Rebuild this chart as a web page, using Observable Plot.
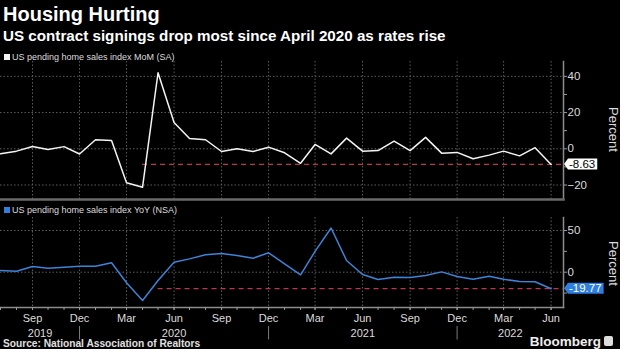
<!DOCTYPE html>
<html><head><meta charset="utf-8">
<script src="https://cdn.jsdelivr.net/npm/d3@7"></script>
<script src="https://cdn.jsdelivr.net/npm/@observablehq/plot@0.6"></script>
<style>
html,body{margin:0;padding:0;background:#000;}
#root{position:relative;width:620px;height:349px;overflow:hidden;background:#000;font-family:"Liberation Sans",Arial,sans-serif;color:#fff;}
.abs{position:absolute;white-space:nowrap;line-height:1;}
.title{left:3px;top:4px;font-size:20px;font-weight:700;color:#fff;}
.subtitle{left:3px;top:28px;font-size:15.2px;font-weight:700;color:#fff;}
.legend{font-size:9px;color:#dcdcdc;}
.legend .sw{display:inline-block;width:6px;height:6px;margin-right:2px;vertical-align:0px;}
.unit{font-size:13px;color:#dcdcdc;writing-mode:vertical-rl;left:607px;}
.source{left:3px;top:339px;font-size:10.2px;font-weight:700;color:#e0e0e0;}
.brand{right:19px;top:335px;font-size:13.5px;font-weight:700;color:#eee;}
.logo{left:604px;top:336px;width:9px;height:10px;background:#ddd;border-radius:2px;}
.plot{position:absolute;left:0;}
</style></head><body><div id="root"></div>
<script>
// ---- data ----
const firstMonth = new Date(Date.UTC(2019, 6, 1));
const months = d3.utcMonth.range(firstMonth, new Date(Date.UTC(2022, 6, 1))); // Jul 2019 .. Jun 2022
const momValues = [
  -2.8, -1.3, 1.3, -0.4, 1.2, -2.9,
  5.0, 4.6, -18.8, -21.2, 42.0, 14.5, 5.7, 5.0, -1.5, 0.0, -1.5, 0.9,
  -2.2, -8.0, 2.4, -2.8, 5.9, -1.3, -1.0, 4.2, -1.0, 6.3, -2.4, -2.0,
  -5.5, -3.5, -1.3, -3.9, 0.6, -8.63
];
const yoyValues = [
  2.0, 1.2, 6.8, 4.8, 6.0, 7.2,
  7.2, 11.3, -12.7, -34.0, -10.0, 12.0, 16.0, 21.0, 22.4, 20.0, 16.8, 23.3,
  10.0, -3.1, 25.0, 53.0, 14.0, -2.8, -8.8, -6.0, -6.4, -4.0, 0.4, -5.2,
  -8.4, -4.8, -8.4, -11.2, -11.5, -19.77
];
const momTicks = [-20, 0, 20, 40];
const momMinorTicks = [-10, 10, 30];
const yoyTicks = [0, 50];
const yoyMinorTicks = [-25, 25];
const yearLabels = ["2019", "2020", "2021", "2022"];
const yearBreaks = [new Date(Date.UTC(2019, 11, 1)), new Date(Date.UTC(2020, 11, 1)), new Date(Date.UTC(2021, 11, 1))];
const momLatest = -8.63, yoyLatest = -19.77;
const momRefStart = new Date(Date.UTC(2020, 3, 1));
const yoyRefStart = new Date(Date.UTC(2020, 4, 1));
const title = "Housing Hurting";
const subtitle = "US contract signings drop most since April 2020 as rates rise";
const momLegend = "US pending home sales index MoM (SA)";
const yoyLegend = "US pending home sales index YoY (NSA)";
const sourceText = "Source: National Association of Realtors";

// ---- build ----
const momData = months.map((date, i) => ({date, value: momValues[i]}));
const yoyData = months.map((date, i) => ({date, value: yoyValues[i]}));
const quarters = months.filter(d => d.getUTCMonth() % 3 === 2);
const xDomain = [firstMonth, new Date(Date.UTC(2022, 5, 25))];
const fontFamily = '"Liberation Sans", Arial, sans-serif';
const gridStyle = {stroke: "#5c5c5c", strokeOpacity: 1, strokeDasharray: "1.5,2"};
const refStyle = {stroke: "#c0354e", strokeWidth: 1.3, strokeDasharray: "5,4"};
const W = 620, MR = 57;

const root = document.getElementById("root");
function addDiv(cls, html, style) {
  const d = document.createElement("div");
  d.className = "abs " + cls;
  d.innerHTML = html;
  if (style) Object.assign(d.style, style);
  root.appendChild(d);
  return d;
}

const topChart = Plot.plot({
  width: W, height: 140,
  marginTop: 0, marginBottom: 2, marginLeft: 0, marginRight: MR,
  style: {background: "transparent", color: "#dcdcdc", fontFamily, fontSize: "11.5px", overflow: "visible"},
  x: {type: "utc", domain: xDomain, axis: null},
  y: {domain: [-28, 48.2], axis: null},
  marks: [
    Plot.gridX(quarters, gridStyle),
    Plot.gridY(momTicks, gridStyle),
    Plot.ruleY([momLatest], {x1: momRefStart, x2: xDomain[1], ...refStyle}),
    Plot.lineY(momData, {x: "date", y: "value", stroke: "#f4f4f4", strokeWidth: 1.5}),
    Plot.frame({anchor: "right", stroke: "#8c8c8c", strokeWidth: 1.5}),
    Plot.frame({anchor: "bottom", stroke: "#6a6a6a", strokeWidth: 2.5}),
    Plot.axisY(momTicks, {anchor: "right", tickSize: 3, tickPadding: 1, label: null, stroke: "#9a9a9a"}),
    Plot.axisY(momMinorTicks, {anchor: "right", tickSize: 3, tickFormat: () => "", label: null, stroke: "#9a9a9a"})
  ]
});
topChart.classList.add("plot");
topChart.style.top = "61px";
root.appendChild(topChart);

const yearBounds = [xDomain[0], ...yearBreaks, xDomain[1]];
const yearData = yearLabels.map((label, i) => ({label, x: new Date((+yearBounds[i] + +yearBounds[i + 1]) / 2)}));

const bottomChart = Plot.plot({
  width: W, height: 124,
  marginTop: 0, marginBottom: 34, marginLeft: 0, marginRight: MR,
  style: {background: "transparent", color: "#dcdcdc", fontFamily, fontSize: "11.5px", overflow: "visible"},
  x: {type: "utc", domain: xDomain, axis: null},
  y: {domain: [-42.3, 65.6], axis: null},
  marks: [
    Plot.gridX(quarters, gridStyle),
    Plot.gridY(yoyTicks, gridStyle),
    Plot.ruleY([yoyLatest], {x1: yoyRefStart, x2: xDomain[1], ...refStyle}),
    Plot.lineY(yoyData, {x: "date", y: "value", stroke: "#3d83d8", strokeWidth: 1.5}),
    Plot.frame({anchor: "right", stroke: "#8c8c8c", strokeWidth: 1.5}),
    Plot.frame({anchor: "bottom", stroke: "#8c8c8c", strokeWidth: 1.5}),
    Plot.axisY(yoyTicks, {anchor: "right", tickSize: 3, tickPadding: 1, label: null, stroke: "#9a9a9a"}),
    Plot.axisY(yoyMinorTicks, {anchor: "right", tickSize: 3, tickFormat: () => "", label: null, stroke: "#9a9a9a"}),
    Plot.axisX(months, {anchor: "bottom", tickSize: 3, tickFormat: () => "", label: null, stroke: "#9a9a9a"}),
    Plot.axisX(quarters, {anchor: "bottom", tickSize: 3, tickPadding: 4, tickFormat: d3.utcFormat("%b"), label: null, stroke: "#9a9a9a", fontSize: 11}),
    Plot.ruleX(yearBreaks, {insetTop: 109, insetBottom: -32.5, stroke: "#7a7a7a"}),
    Plot.text(yearData, {x: "x", text: "label", frameAnchor: "bottom", dy: 25.5, lineAnchor: "middle", fontSize: 11, fill: "#dcdcdc"})
  ]
});
bottomChart.classList.add("plot");
bottomChart.style.top = "217px";
root.appendChild(bottomChart);

// value callouts at the right axis, positioned with the charts' own scales
function callout(chart, value, fill, textColor) {
  const svg = d3.select(chart);
  const y = chart.scale("y").apply(value);
  const x0 = chart.scale("x").range[1];
  const g = svg.append("g");
  const path = g.append("path").attr("fill", fill);
  const t = g.append("text").attr("x", x0 + 6).attr("y", y).attr("dy", "0.36em")
    .attr("text-anchor", "start")
    .attr("fill", textColor).attr("font-size", 11.5).attr("font-family", fontFamily)
    .text(d3.format(".2f")(value).replace("\u2212", "-"));
  const w = t.node().getComputedTextLength();
  const h = 5.5, xb = x0 + 5, xe = x0 + 6 + w + 2;
  path.attr("d", `M${x0 + 1},${y}L${xb},${y - h}L${xe},${y - h}L${xe},${y + h}L${xb},${y + h}Z`);
}
callout(topChart, momLatest, "#ffffff", "#000000");
callout(bottomChart, yoyLatest, "#2f7fe0", "#ffffff");

addDiv("title", title);
addDiv("subtitle", subtitle);
addDiv("legend", `<span class="sw" style="background:#f4f4f4"></span>${momLegend}`, {left: "4px", top: "53px"});
addDiv("legend", `<span class="sw" style="background:#2f7fe0"></span>${yoyLegend}`, {left: "4px", top: "206px"});
addDiv("unit", "Percent", {top: "107px"});
addDiv("unit", "Percent", {top: "241px"});
addDiv("source", sourceText);
addDiv("brand", "Bloomberg");
addDiv("logo", "");
</script>
</body></html>
